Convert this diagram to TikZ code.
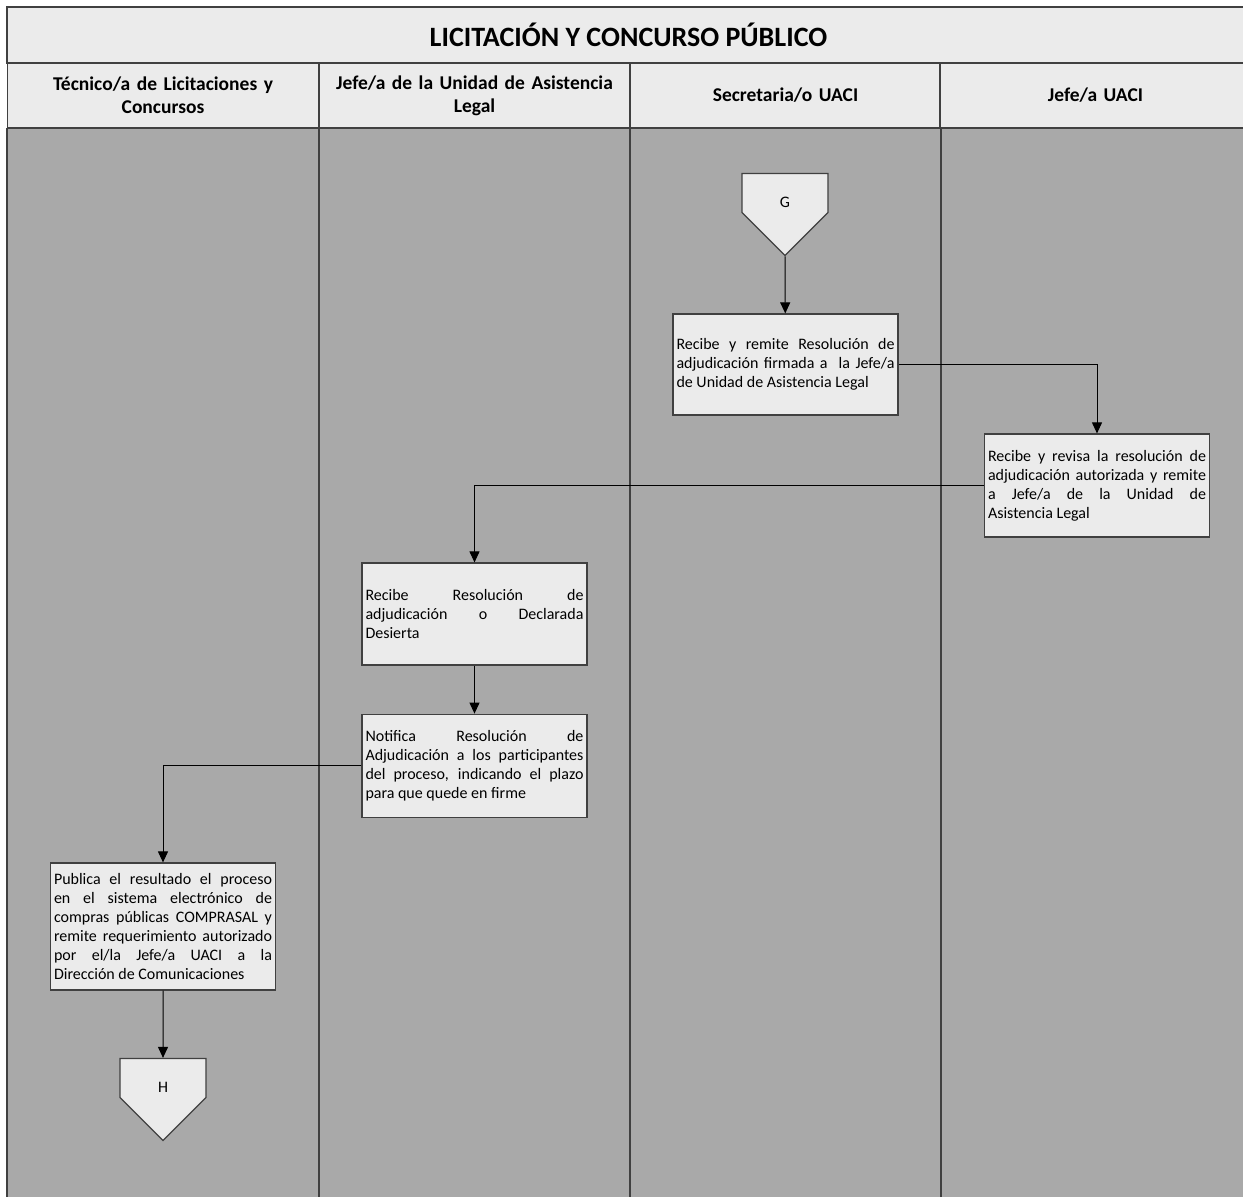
\documentclass[tikz,border=0pt]{standalone}
\usepackage{fontspec}
\setmainfont{Carlito}
\usepackage{tikz}
\usetikzlibrary{shapes.symbols, arrows.meta, positioning}
\definecolor{cLane}{RGB}{169,169,169}
\definecolor{cBox}{RGB}{235,235,235}
\definecolor{cLine}{RGB}{64,64,64}
\tikzset{
	laneline/.style ={draw=cLine, line width=1.3pt},
	titlebar/.style ={rectangle, draw=cLine, line width=1.3pt, fill=cBox, minimum width=1243pt, minimum height=56pt, font=\bfseries\fontsize{28}{32}\selectfont},
	lanehead/.style ={rectangle, draw=cLine, line width=1.3pt, fill=cBox, minimum width=311pt, minimum height=65pt, text width=300pt, align=center, font=\bfseries\fontsize{19.5}{23}\selectfont},
	task/.style     ={rectangle, draw=cLine, line width=1.2pt, fill=cBox, minimum width=225pt, text width=218pt, inner sep=3.5pt, align=justify},
	offpage/.style  ={signal, signal to=south, signal pointer angle=90, draw=cLine, line width=1.2pt, fill=cBox, minimum width=86pt, minimum height=44pt, inner sep=0pt, text height=28pt, text depth=0pt},
	flow/.style     ={-{Triangle[length=11pt, width=10pt]}, line width=1pt, black},
}
\begin{document}
\begin{tikzpicture}[x=1pt, y=-1pt, font=\fontsize{16}{19}\selectfont, node distance=48pt]
	\useasboundingbox (0,0) rectangle (1243,1197);
	% swimlanes
	\fill[cLane] (7,128) rectangle (1250,1205);
	\node[titlebar] (title) at (628.5,35) {LICITACIÓN Y CONCURSO PÚBLICO};
	\node[lanehead] (h1) at (163,95.5) {Técnico/a de Licitaciones y\\Concursos};
	\node[lanehead] (h2) at (474.5,95.5) {Jefe/a de la Unidad de Asistencia\\Legal};
	\node[lanehead] (h3) at (785.5,95.5) {Secretaria/o UACI};
	\node[lanehead] (h4) at (1095.5,95.5) {Jefe/a UACI};
	\foreach \x in {7,319,630,941} \draw[laneline] (\x,128) -- (\x,1205);
	% flow
	\node[offpage] (g) at (785,193) {G};
	\node[task, minimum height=101pt] (b1) at (785.5,364.5) {Recibe y remite Resolución de\linebreak adjudicación firmada a~ la Jefe/a\linebreak de Unidad de Asistencia Legal};
	\node[task, minimum height=103pt] (b2) at (1097,485.5) {Recibe y revisa la resolución de\linebreak adjudicación autorizada y remite\linebreak a Jefe/a de la Unidad de\linebreak Asistencia Legal};
	\node[task, minimum height=102pt] (b3) at (474.5,614) {Recibe Resolución de\linebreak adjudicación o Declarada\linebreak Desierta};
	\node[task, minimum height=103pt, below=of b3] (b4) {Notifica Resolución de\linebreak Adjudicación a los participantes\linebreak del proceso, indicando el plazo\linebreak para que quede en firme};
	\node[task, minimum height=127pt] (b5) at (163,926.5) {Publica el resultado el proceso\linebreak en el sistema electrónico de\linebreak compras públicas COMPRASAL y\linebreak remite requerimiento autorizado\linebreak por el/la Jefe/a UACI a la\linebreak Dirección de Comunicaciones};
	\node[offpage] (h) at (163,1078) {H};
	\draw[flow] (g.south) -- (b1);
	\draw[flow] (b1.east) -| (b2.north);
	\draw[flow] (b2.west) -| (b3.north);
	\draw[flow] (b3) -- (b4);
	\draw[flow] (b4.west) -| (b5.north);
	\draw[flow] (b5) -- (h);
\end{tikzpicture}
\end{document}
